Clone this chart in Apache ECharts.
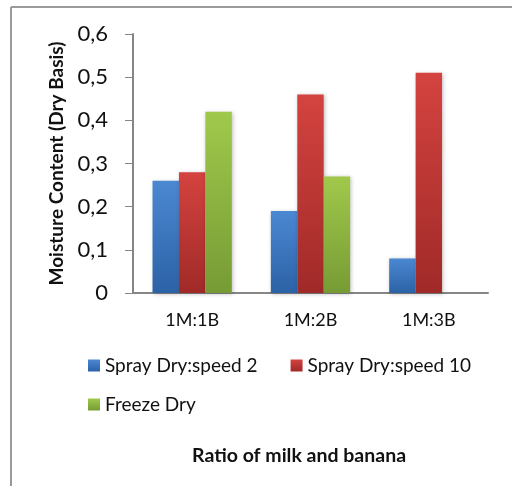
<!DOCTYPE html>
<html>
<head>
<meta charset="utf-8">
<script src="https://cdn.jsdelivr.net/npm/echarts@6/dist/echarts.min.js"></script>
<style>
  html, body { margin: 0; padding: 0; background: #fff; }
  #chart { width: 512px; height: 486px; }
</style>
</head>
<body>
<div id="chart"></div>
<script>
// Moisture content by milk:banana ratio for three drying methods
const categories = ['1M:1B', '1M:2B', '1M:3B'];
const sprayDrySpeed2 = [0.26, 0.19, 0.08];
const sprayDrySpeed10 = [0.28, 0.46, 0.51];
const freezeDry = [0.42, 0.27, null];
const yTicks = { min: 0, max: 0.6, interval: 0.1 };

const seriesNames = ['Spray Dry:speed 2', 'Spray Dry:speed 10', 'Freeze Dry'];
const seriesData = [sprayDrySpeed2, sprayDrySpeed10, freezeDry];
const gradients = [
  ['#4b88d2', '#2c62a6'],
  ['#d4433f', '#a02a28'],
  ['#a0c94b', '#779b35']
];

const FONT = 'Lato, "Open Sans", sans-serif';
const chart = echarts.init(document.getElementById('chart'));

chart.setOption({
  animation: false,
  backgroundColor: '#ffffff',
  grid: { left: 133, right: 24, top: 34, bottom: 193, containLabel: false },
  title: {
    text: 'Ratio of milk and banana',
    left: 187, top: 441,
    textStyle: { fontFamily: FONT, fontSize: 19.5, fontWeight: 'bold', color: '#111' }
  },
  legend: [
    {
      data: seriesNames.slice(0, 2),
      left: 83, top: 351,
      icon: 'rect', itemWidth: 12, itemHeight: 12, itemGap: 33,
      textStyle: { fontFamily: FONT, fontSize: 19, color: '#111' }
    },
    {
      data: seriesNames.slice(2),
      left: 83, top: 390,
      icon: 'rect', itemWidth: 12, itemHeight: 12,
      textStyle: { fontFamily: FONT, fontSize: 19, color: '#111' }
    }
  ],
  xAxis: {
    type: 'category',
    data: categories,
    axisLine: { lineStyle: { color: '#868686', width: 2 } },
    axisTick: { show: false },
    axisLabel: { margin: 18, fontFamily: FONT, fontSize: 18, color: '#111' }
  },
  yAxis: {
    type: 'value',
    min: yTicks.min, max: yTicks.max, interval: yTicks.interval,
    name: 'Moisture Content (Dry Basis)',
    nameLocation: 'middle',
    nameGap: 65,
    nameTextStyle: { fontFamily: FONT, fontSize: 19, fontWeight: 'bold', color: '#111' },
    axisLine: { show: true, lineStyle: { color: '#868686', width: 2 } },
    axisTick: { show: true, length: 8, lineStyle: { color: '#868686', width: 1 } },
    splitLine: { show: false },
    axisLabel: {
      margin: 25, fontFamily: FONT, fontSize: 22, color: '#111',
      formatter: v => (Math.round(v * 10) / 10).toString().replace('.', ',')
    }
  },
  series: seriesNames.map((name, i) => ({
    name,
    type: 'bar',
    data: seriesData[i],
    barGap: '0%',
    barCategoryGap: '33%',
    itemStyle: {
      color: new echarts.graphic.LinearGradient(0, 0, 0, 1, [
        { offset: 0, color: gradients[i][0] },
        { offset: 1, color: gradients[i][1] }
      ]),
      shadowColor: 'rgba(0,0,0,0.25)', shadowBlur: 4, shadowOffsetX: 1, shadowOffsetY: 1
    }
  })),
  graphic: [
    // chart area frame (top and left edges)
    { type: 'line', shape: { x1: 11, y1: 7, x2: 512, y2: 7 }, style: { stroke: '#9a9a9a', lineWidth: 2 } },
    { type: 'line', shape: { x1: 11, y1: 7, x2: 11, y2: 486 }, style: { stroke: '#9a9a9a', lineWidth: 2 } }
  ]
});
</script>
</body>
</html>
